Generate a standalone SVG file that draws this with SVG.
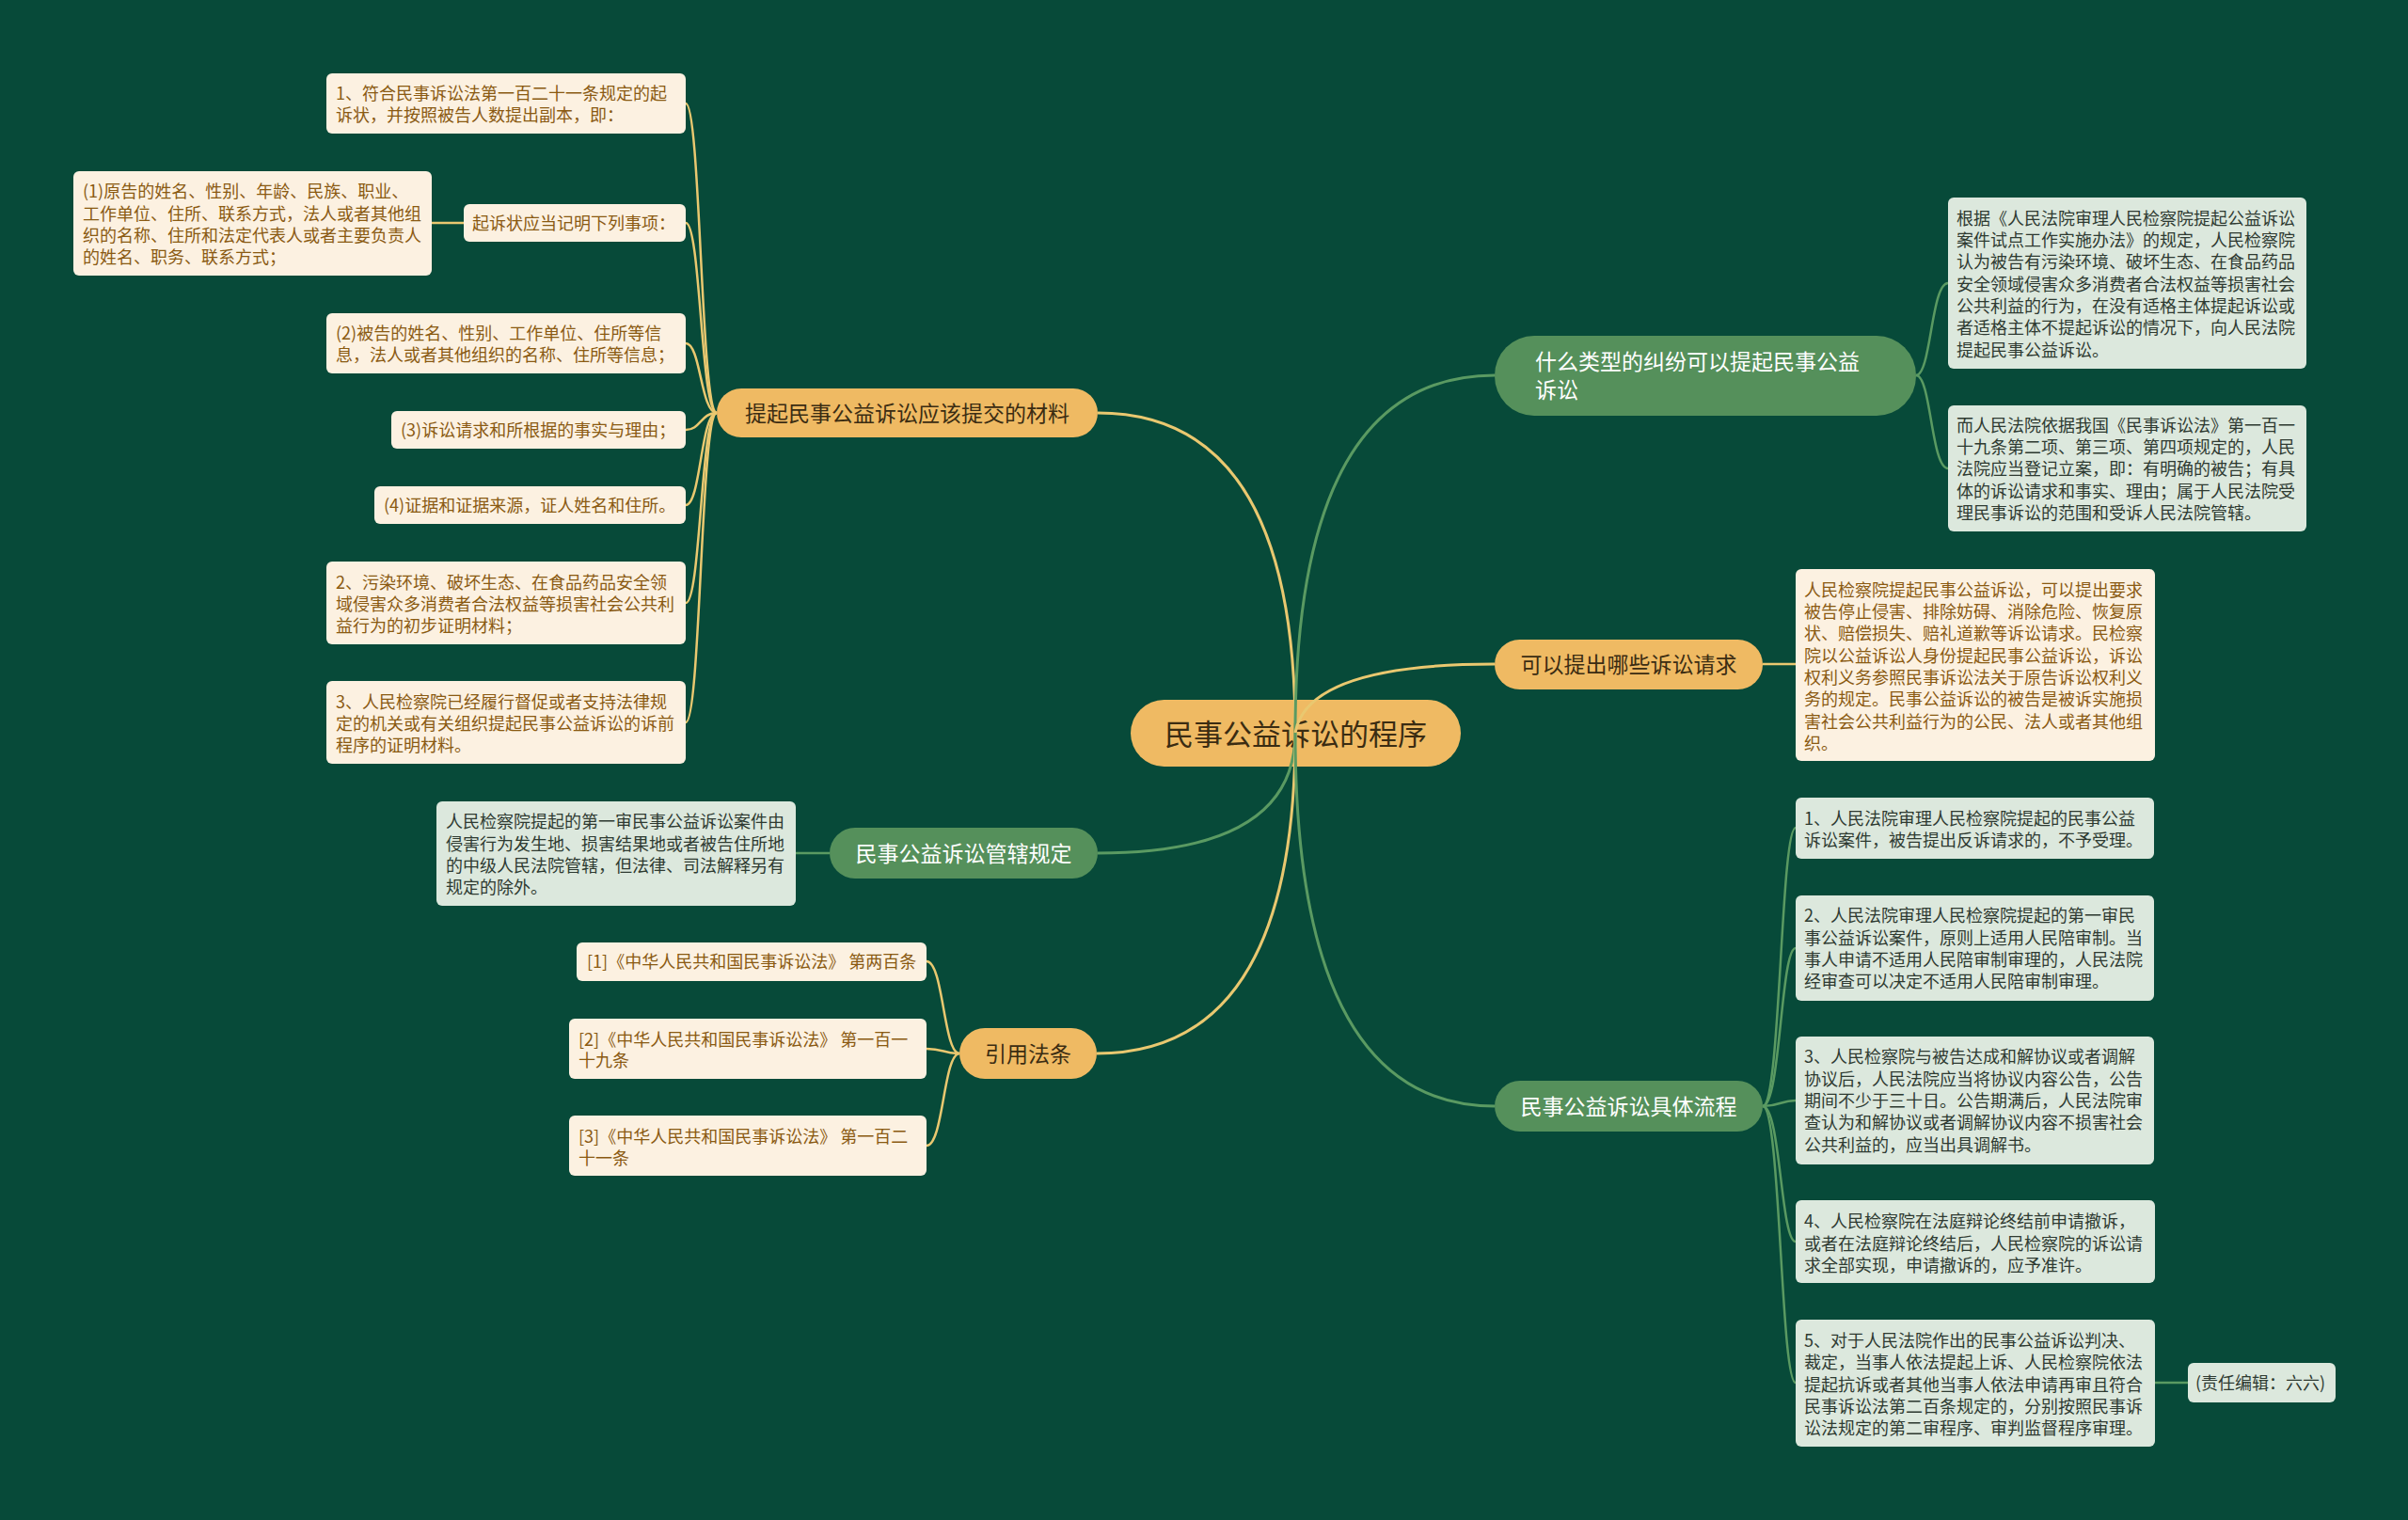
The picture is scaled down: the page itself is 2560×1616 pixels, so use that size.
<svg xmlns="http://www.w3.org/2000/svg" width="2560" height="1616" viewBox="0 0 2560 1616">
<style>
text{font-family:"Noto Sans CJK SC","Noto Sans",sans-serif;dominant-baseline:central}
.bg{fill:#074a39}
.po{fill:#efba63}
.pg{fill:#55905b}
.bc{fill:#fcf1e1}
.bgn{fill:#dce8dd}
.tc{font-size:31px;fill:#3b2c12;text-anchor:middle}
.to{font-size:23px;fill:#3b2c12;text-anchor:middle}
.tg{font-size:23px;fill:#ffffff}
.tgm{font-size:23px;fill:#ffffff;text-anchor:middle}
.tb{font-size:18px;fill:#8a5a12}
.tn{font-size:18px;fill:#2e3a31}
.cy{fill:none;stroke:#e9c870;stroke-width:3}
.cg{fill:none;stroke:#5a9a62;stroke-width:3}
.sy{fill:none;stroke:#e9c870;stroke-width:2.5}
.sg{fill:none;stroke:#5a9a62;stroke-width:2.5}
</style>
<rect class="bg" x="0" y="0" width="2560" height="1616"/>

<g id="center"><rect class="po" x="1202" y="744" width="351" height="71" rx="35.5"/><text class="tc" x="1377.5" y="778">民事公益诉讼的程序</text></g>

<g id="b1"><rect class="po" x="762" y="413" width="405" height="52" rx="26"/><text class="to" x="964.5" y="438">提起民事公益诉讼应该提交的材料</text></g>
<g id="b1c1"><rect class="bc" x="347" y="78" width="382" height="64" rx="6"/><text class="tb" x="357" y="98">1、符合民事诉讼法第一百二十一条规定的起</text><text class="tb" x="357" y="121">诉状，并按照被告人数提出副本，即：</text></g>
<g id="b1c2"><rect class="bc" x="493" y="217" width="236" height="40" rx="6"/><text class="tb" x="502" y="236">起诉状应当记明下列事项：</text></g>
<g id="b1c2a"><rect class="bc" x="78" y="182" width="381" height="111" rx="6"/><text class="tb" x="88" y="202">(1)原告的姓名、性别、年龄、民族、职业、</text><text class="tb" x="88" y="226">工作单位、住所、联系方式，法人或者其他组</text><text class="tb" x="88" y="249">织的名称、住所和法定代表人或者主要负责人</text><text class="tb" x="88" y="272">的姓名、职务、联系方式；</text></g>
<g id="b1c3"><rect class="bc" x="347" y="333" width="382" height="64" rx="6"/><text class="tb" x="357" y="353">(2)被告的姓名、性别、工作单位、住所等信</text><text class="tb" x="357" y="376">息，法人或者其他组织的名称、住所等信息；</text></g>
<g id="b1c4"><rect class="bc" x="416" y="437" width="313" height="40" rx="6"/><text class="tb" x="426" y="456">(3)诉讼请求和所根据的事实与理由；</text></g>
<g id="b1c5"><rect class="bc" x="398" y="517" width="331" height="40" rx="6"/><text class="tb" x="408" y="536">(4)证据和证据来源，证人姓名和住所。</text></g>
<g id="b1c6"><rect class="bc" x="347" y="597" width="382" height="88" rx="6"/><text class="tb" x="357" y="618">2、污染环境、破坏生态、在食品药品安全领</text><text class="tb" x="357" y="641">域侵害众多消费者合法权益等损害社会公共利</text><text class="tb" x="357" y="664">益行为的初步证明材料；</text></g>
<g id="b1c7"><rect class="bc" x="347" y="724" width="382" height="88" rx="6"/><text class="tb" x="357" y="745">3、人民检察院已经履行督促或者支持法律规</text><text class="tb" x="357" y="768">定的机关或有关组织提起民事公益诉讼的诉前</text><text class="tb" x="357" y="791">程序的证明材料。</text></g>

<g id="b2"><rect class="pg" x="882" y="880" width="285" height="54" rx="27"/><text class="tgm" x="1024.5" y="906">民事公益诉讼管辖规定</text></g>
<g id="b2c1"><rect class="bgn" x="464" y="852" width="382" height="111" rx="6"/><text class="tn" x="474" y="872">人民检察院提起的第一审民事公益诉讼案件由</text><text class="tn" x="474" y="896">侵害行为发生地、损害结果地或者被告住所地</text><text class="tn" x="474" y="919">的中级人民法院管辖，但法律、司法解释另有</text><text class="tn" x="474" y="942">规定的除外。</text></g>

<g id="b3"><rect class="po" x="1020" y="1093" width="146" height="54" rx="27"/><text class="to" x="1093" y="1119">引用法条</text></g>
<g id="b3c1"><rect class="bc" x="613" y="1002" width="372" height="41" rx="6"/><text class="tb" x="624" y="1021">[1]《中华人民共和国民事诉讼法》 第两百条</text></g>
<g id="b3c2"><rect class="bc" x="605" y="1083" width="380" height="64" rx="6"/><text class="tb" x="615" y="1104">[2]《中华人民共和国民事诉讼法》 第一百一</text><text class="tb" x="615" y="1126">十九条</text></g>
<g id="b3c3"><rect class="bc" x="605" y="1186" width="380" height="64" rx="6"/><text class="tb" x="615" y="1207">[3]《中华人民共和国民事诉讼法》 第一百二</text><text class="tb" x="615" y="1230">十一条</text></g>

<g id="r1"><rect class="pg" x="1589" y="357" width="448" height="85" rx="42"/><text class="tg" x="1632" y="383">什么类型的纠纷可以提起民事公益</text><text class="tg" x="1632" y="413">诉讼</text></g>
<g id="r1c1"><rect class="bgn" x="2071" y="210" width="381" height="182" rx="6"/><text class="tn" x="2080" y="231">根据《人民法院审理人民检察院提起公益诉讼</text><text class="tn" x="2080" y="254">案件试点工作实施办法》的规定，人民检察院</text><text class="tn" x="2080" y="277">认为被告有污染环境、破坏生态、在食品药品</text><text class="tn" x="2080" y="301">安全领域侵害众多消费者合法权益等损害社会</text><text class="tn" x="2080" y="324">公共利益的行为，在没有适格主体提起诉讼或</text><text class="tn" x="2080" y="347">者适格主体不提起诉讼的情况下，向人民法院</text><text class="tn" x="2080" y="371">提起民事公益诉讼。</text></g>
<g id="r1c2"><rect class="bgn" x="2071" y="431" width="381" height="134" rx="6"/><text class="tn" x="2080" y="451">而人民法院依据我国《民事诉讼法》第一百一</text><text class="tn" x="2080" y="474">十九条第二项、第三项、第四项规定的，人民</text><text class="tn" x="2080" y="497">法院应当登记立案，即：有明确的被告；有具</text><text class="tn" x="2080" y="521">体的诉讼请求和事实、理由；属于人民法院受</text><text class="tn" x="2080" y="544">理民事诉讼的范围和受诉人民法院管辖。</text></g>

<g id="r2"><rect class="po" x="1589" y="680" width="285" height="53" rx="26.5"/><text class="to" x="1731.5" y="705">可以提出哪些诉讼请求</text></g>
<g id="r2c1"><rect class="bc" x="1909" y="605" width="382" height="204" rx="6"/><text class="tb" x="1918" y="626">人民检察院提起民事公益诉讼，可以提出要求</text><text class="tb" x="1918" y="649">被告停止侵害、排除妨碍、消除危险、恢复原</text><text class="tb" x="1918" y="672">状、赔偿损失、赔礼道歉等诉讼请求。民检察</text><text class="tb" x="1918" y="696">院以公益诉讼人身份提起民事公益诉讼，诉讼</text><text class="tb" x="1918" y="719">权利义务参照民事诉讼法关于原告诉讼权利义</text><text class="tb" x="1918" y="742">务的规定。民事公益诉讼的被告是被诉实施损</text><text class="tb" x="1918" y="766">害社会公共利益行为的公民、法人或者其他组</text><text class="tb" x="1918" y="789">织。</text></g>

<g id="r3"><rect class="pg" x="1589" y="1149" width="285" height="54" rx="27"/><text class="tgm" x="1731.5" y="1175">民事公益诉讼具体流程</text></g>
<g id="r3c1"><rect class="bgn" x="1909" y="848" width="381" height="65" rx="6"/><text class="tn" x="1918" y="869">1、人民法院审理人民检察院提起的民事公益</text><text class="tn" x="1918" y="892">诉讼案件，被告提出反诉请求的，不予受理。</text></g>
<g id="r3c2"><rect class="bgn" x="1909" y="952" width="381" height="112" rx="6"/><text class="tn" x="1918" y="972">2、人民法院审理人民检察院提起的第一审民</text><text class="tn" x="1918" y="996">事公益诉讼案件，原则上适用人民陪审制。当</text><text class="tn" x="1918" y="1019">事人申请不适用人民陪审制审理的，人民法院</text><text class="tn" x="1918" y="1042">经审查可以决定不适用人民陪审制审理。</text></g>
<g id="r3c3"><rect class="bgn" x="1909" y="1102" width="381" height="136" rx="6"/><text class="tn" x="1918" y="1122">3、人民检察院与被告达成和解协议或者调解</text><text class="tn" x="1918" y="1146">协议后，人民法院应当将协议内容公告，公告</text><text class="tn" x="1918" y="1169">期间不少于三十日。公告期满后，人民法院审</text><text class="tn" x="1918" y="1192">查认为和解协议或者调解协议内容不损害社会</text><text class="tn" x="1918" y="1216">公共利益的，应当出具调解书。</text></g>
<g id="r3c4"><rect class="bgn" x="1909" y="1276" width="382" height="88" rx="6"/><text class="tn" x="1918" y="1297">4、人民检察院在法庭辩论终结前申请撤诉，</text><text class="tn" x="1918" y="1321">或者在法庭辩论终结后，人民检察院的诉讼请</text><text class="tn" x="1918" y="1344">求全部实现，申请撤诉的，应予准许。</text></g>
<g id="r3c5"><rect class="bgn" x="1909" y="1403" width="382" height="135" rx="6"/><text class="tn" x="1918" y="1424">5、对于人民法院作出的民事公益诉讼判决、</text><text class="tn" x="1918" y="1447">裁定，当事人依法提起上诉、人民检察院依法</text><text class="tn" x="1918" y="1471">提起抗诉或者其他当事人依法申请再审且符合</text><text class="tn" x="1918" y="1494">民事诉讼法第二百条规定的，分别按照民事诉</text><text class="tn" x="1918" y="1517">讼法规定的第二审程序、审判监督程序审理。</text></g>
<g id="r3c5a"><rect class="bgn" x="2326" y="1449" width="157" height="42" rx="6"/><text class="tn" x="2334" y="1469">(责任编辑：六六)</text></g>

<g id="connectors">
<path class="cy" d="M1377,779 Q1377,439 1167,439"/>
<path class="cg" d="M1377,779 Q1377,907 1167,907"/>
<path class="cy" d="M1377,779 Q1377,1120 1166,1120"/>
<path class="cg" d="M1377,779 Q1377,399 1589,399"/>
<path class="cy" d="M1377,779 Q1390,706 1589,706"/>
<path class="cg" d="M1377,779 Q1377,1176 1589,1176"/>

<path class="sy" d="M762,439 C745,439 745,110 729,110"/>
<path class="sy" d="M762,439 C745,439 745,237 729,237"/>
<path class="sy" d="M762,439 C745,439 745,365 729,365"/>
<path class="sy" d="M762,439 C745,439 745,457 729,457"/>
<path class="sy" d="M762,439 C745,439 745,537 729,537"/>
<path class="sy" d="M762,439 C745,439 745,641 729,641"/>
<path class="sy" d="M762,439 C745,439 745,768 729,768"/>
<path class="sy" d="M493,237 L459,237"/>

<path class="sg" d="M882,907 L846,907"/>

<path class="sy" d="M1020,1120 C1003,1120 1003,1022 985,1022"/>
<path class="sy" d="M1020,1120 C1003,1120 1003,1115 985,1115"/>
<path class="sy" d="M1020,1120 C1003,1120 1003,1218 985,1218"/>

<path class="sg" d="M2037,399 C2053,399 2053,301 2071,301"/>
<path class="sg" d="M2037,399 C2053,399 2053,498 2071,498"/>

<path class="sy" d="M1874,706 L1909,706"/>

<path class="sg" d="M1874,1176 C1893,1176 1893,880 1909,880"/>
<path class="sg" d="M1874,1176 C1893,1176 1893,1008 1909,1008"/>
<path class="sg" d="M1874,1176 C1893,1176 1893,1170 1909,1170"/>
<path class="sg" d="M1874,1176 C1893,1176 1893,1320 1909,1320"/>
<path class="sg" d="M1874,1176 C1893,1176 1893,1470 1909,1470"/>
<path class="sg" d="M2291,1470 L2326,1470"/>
</g>
</svg>
